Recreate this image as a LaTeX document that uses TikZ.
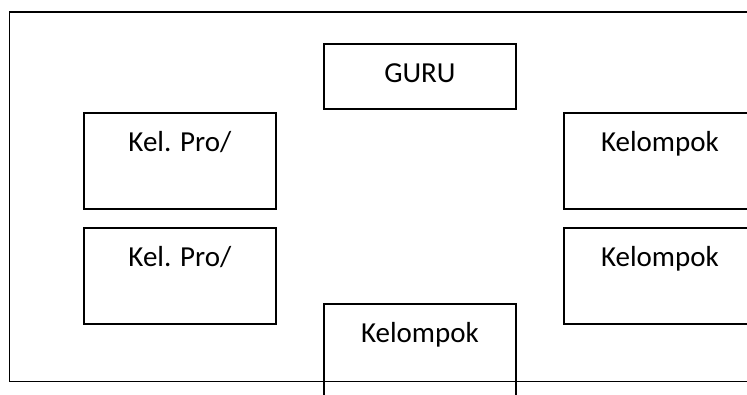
\documentclass[tikz,border=0pt]{standalone}
\usepackage{fontspec}
\setmainfont{Carlito}
\begin{document}
\begin{tikzpicture}[x=1pt,y=-1pt,
  box/.style={draw=black,line width=1.8pt,rectangle,inner sep=0pt,
    minimum width=192pt,minimum height=#1,anchor=north west},
  box/.default=96pt,
  lbl/.style={anchor=base,inner sep=0pt,font=\fontsize{29}{33}\selectfont}]
\useasboundingbox (0,0) rectangle (747,394);
\clip (0,0) rectangle (747,394);
% outer frame
\draw[line width=1.8pt] (755,12) -- (9.5,12) -- (9.5,381.5) -- (755,381.5);
% boxes
\node[box=65pt]  (guru) at (323,43)  {};
\node[box]       (pro1) at (83,112)  {};
\node[box]       (pro2) at (83,227)  {};
\node[box]       (kr1)  at (563,112) {};
\node[box]       (kr2)  at (563,227) {};
\node[box=110pt] (kb)   at (323,303) {};
% labels, baseline 39pt under each box top
\node[lbl] (tguru) at ([yshift=-39pt]guru.north) {GURU};
\node[lbl] (tpro1) at ([yshift=-39pt]pro1.north) {Kel. Pro/};
\node[lbl] (tpro2) at ([yshift=-39pt]pro2.north) {Kel. Pro/};
\node[lbl] (tkr1)  at ([yshift=-39pt]kr1.north)  {Kelompok};
\node[lbl] (tkr2)  at ([yshift=-39pt]kr2.north)  {Kelompok};
\node[lbl] (tkb)   at ([yshift=-39pt]kb.north)   {Kelompok};
\end{tikzpicture}
\end{document}
